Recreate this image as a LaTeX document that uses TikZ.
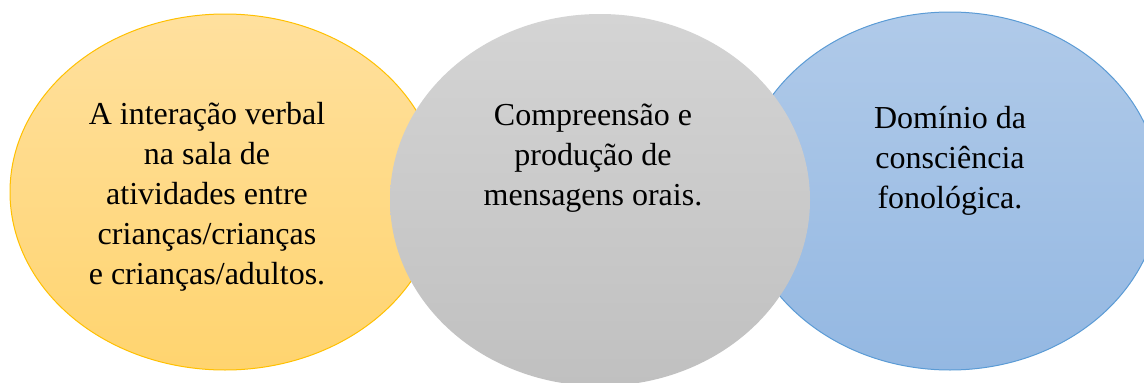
\documentclass[tikz,border=0pt]{standalone}
\usepackage{fontspec}
\setmainfont{Liberation Serif}
\usetikzlibrary{shapes.geometric}
\definecolor{ytop}{HTML}{FFE09E}
\definecolor{ybot}{HTML}{FFD46F}
\definecolor{yline}{HTML}{FFC000}
\definecolor{gtop}{HTML}{D4D4D4}
\definecolor{gbot}{HTML}{C0C0C0}
\definecolor{btop}{HTML}{B0CAE9}
\definecolor{bbot}{HTML}{94B8E2}
\definecolor{bline}{HTML}{5B9BD5}
\tikzset{
  bubble/.style={ellipse, inner sep=0pt, line width=1pt},
  txt/.style={align=center, font=\fontsize{32}{40}\selectfont, inner sep=0pt}
}
\begin{document}
\begin{tikzpicture}[x=1pt, y=1pt]
	\useasboundingbox (0,0) rectangle (1144,-383);
	\clip (0,0) rectangle (1144,-383);
	\node[bubble, draw=yline, top color=ytop, bottom color=ybot,
		minimum width=430pt, minimum height=356pt] (interacao) at (225,-192) {};
	\node[bubble, draw=bline, top color=btop, bottom color=bbot,
		minimum width=420pt, minimum height=358pt] (dominio) at (950,-191) {};
	\node[bubble, top color=gtop, bottom color=gbot,
		minimum width=420pt, minimum height=372pt] (compreensao) at (600,-200) {};
	\node[txt] (interacaotxt) at (207,-197)
		{A interação verbal\\na sala de\\atividades entre\\crianças/crianças\\e crianças/adultos.};
	\node[txt] (compreensaotxt) at (593,-158)
		{Compreensão e\\produção de\\mensagens orais.};
	\node[txt] (dominiotxt) at (950,-161)
		{Domínio da\\consciência\\fonológica.};
\end{tikzpicture}
\end{document}
